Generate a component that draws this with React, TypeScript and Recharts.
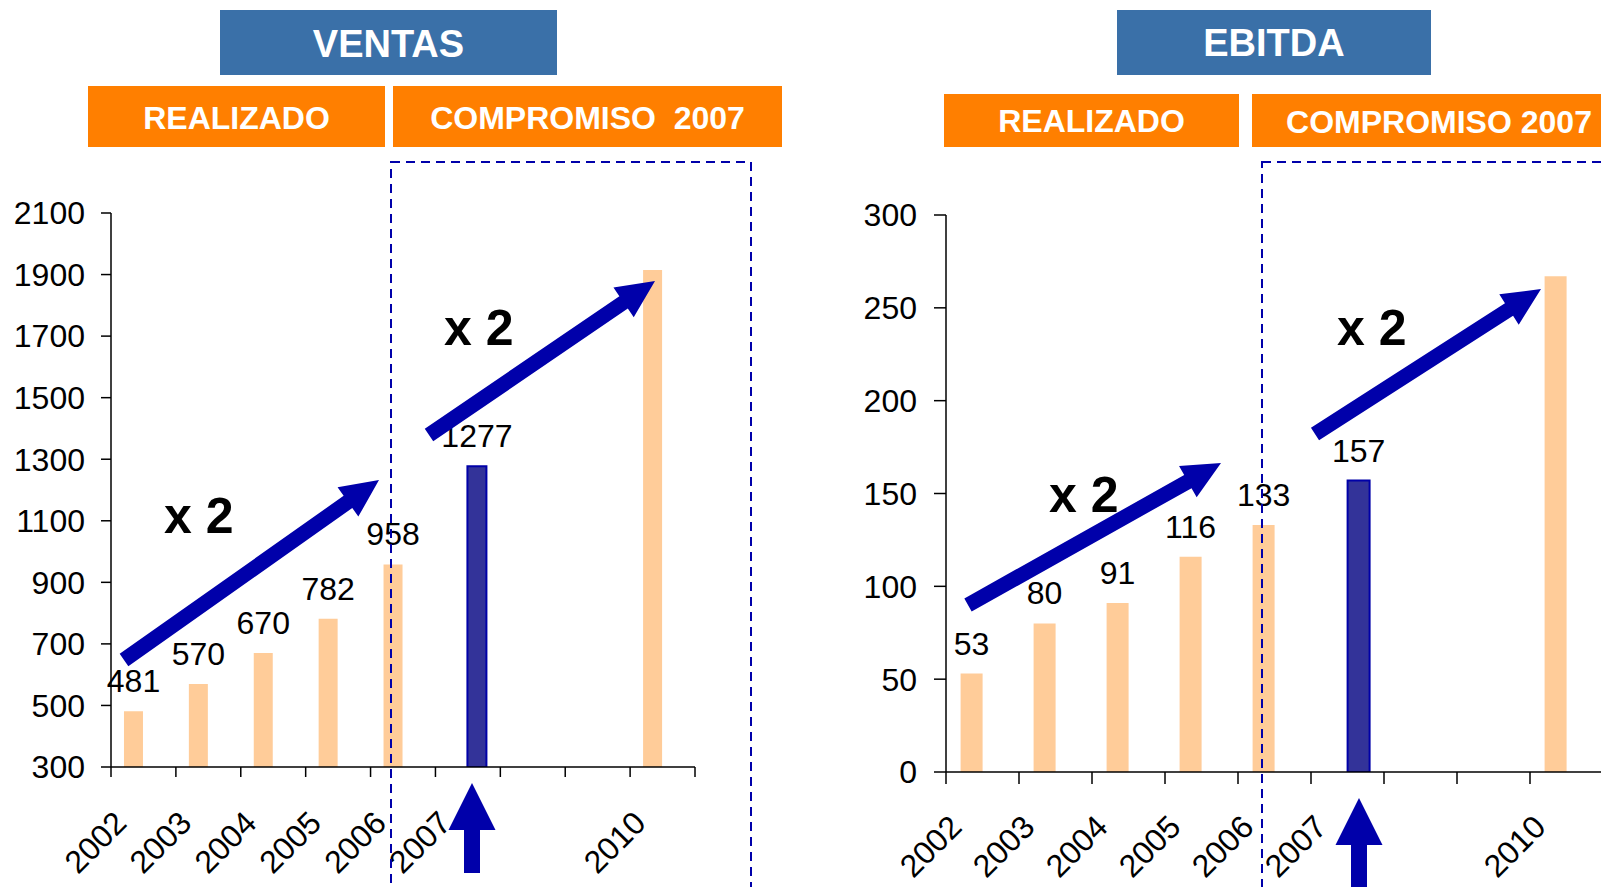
import { Bar, BarChart, LabelList, XAxis, YAxis } from "recharts";

const categories = ["2002", "2003", "2004", "2005", "2006", "2007", "2008", "2009", "2010"];
const hiddenYears = ["2008", "2009"];
const labeledYears = ["2002", "2003", "2004", "2005", "2006", "2007"];

const ventasRealizado = [481, 570, 670, 782, 958, null, null, null, 1915];
const ventasCompromiso = [null, null, null, null, null, 1277, null, null, null];
const ventasTicks = [300, 500, 700, 900, 1100, 1300, 1500, 1700, 1900, 2100];

const ebitdaRealizado = [53, 80, 91, 116, 133, null, null, null, 267];
const ebitdaCompromiso = [null, null, null, null, null, 157, null, null, null];
const ebitdaTicks = [0, 50, 100, 150, 200, 250, 300];

const colors = {
  peach: "#FFCC99",
  navy: "#333399",
  navyEdge: "#0000A8",
  arrow: "#0000AA",
  orange: "#FF7F00",
  steel: "#3A70A8",
  ink: "#000000",
};

const font = '"Liberation Sans", Arial, sans-serif';
const H = 887;
const textSize = 32;

function arrowPoints(x1: number, y1: number, x2: number, y2: number, shaft = 15, headW = 36, headL = 38) {
  const dx = x2 - x1;
  const dy = y2 - y1;
  const len = Math.hypot(dx, dy);
  const ux = dx / len;
  const uy = dy / len;
  const px = -uy;
  const py = ux;
  const bx = x2 - ux * headL;
  const by = y2 - uy * headL;
  const pts = [
    [x1 + (px * shaft) / 2, y1 + (py * shaft) / 2],
    [bx + (px * shaft) / 2, by + (py * shaft) / 2],
    [bx + (px * headW) / 2, by + (py * headW) / 2],
    [x2, y2],
    [bx - (px * headW) / 2, by - (py * headW) / 2],
    [bx - (px * shaft) / 2, by - (py * shaft) / 2],
    [x1 - (px * shaft) / 2, y1 - (py * shaft) / 2],
  ];
  return pts.map((p) => p.join(",")).join(" ");
}

function XTick(props: any) {
  const { x, y, payload, index, band, tickLen, dx, dy } = props;
  const year = payload.value;
  const lx = x + dx;
  const ly = y + dy;
  return (
    <g>
      <line x1={x - band / 2} x2={x - band / 2} y1={y} y2={y + tickLen} stroke={colors.ink} strokeWidth={1.5} />
      {index === categories.length - 1 && (
        <line x1={x + band / 2} x2={x + band / 2} y1={y} y2={y + tickLen} stroke={colors.ink} strokeWidth={1.5} />
      )}
      {!hiddenYears.includes(year) && (
        <text x={lx} y={ly} transform={`rotate(-45 ${lx} ${ly})`} textAnchor="end" fontSize={textSize} fill={colors.ink}>
          {year}
        </text>
      )}
    </g>
  );
}

function renderValue(props: any) {
  const { x, y, width, value } = props;
  if (value == null) {
    return null;
  }
  return (
    <text x={Number(x) + Number(width) / 2} y={Number(y) - 19} textAnchor="middle" fontSize={textSize} fill={colors.ink}>
      {value}
    </text>
  );
}

type PanelProps = {
  left: number;
  width: number;
  plotLeft: number;
  plotTop: number;
  plotWidth: number;
  plotHeight: number;
  realizado: (number | null)[];
  compromiso: (number | null)[];
  ticks: number[];
  tickLen: number;
  tickGap: number;
  labelDx: number;
  labelDy: number;
};

function Panel(p: PanelProps) {
  const data = categories.map((year, i) => {
    const show = labeledYears.includes(year);
    return {
      year,
      realizado: p.realizado[i],
      compromiso: p.compromiso[i],
      realizadoLabel: show ? p.realizado[i] : null,
      compromisoLabel: show ? p.compromiso[i] : null,
    };
  });
  const band = p.plotWidth / categories.length;
  const yAxisW = 60;
  const xAxisH = 60;
  const margin = {
    top: p.plotTop,
    left: p.plotLeft - yAxisW,
    right: p.width - p.plotLeft - p.plotWidth,
    bottom: H - p.plotTop - p.plotHeight - xAxisH,
  };

  return (
    <div style={{ position: "absolute", left: p.left, top: 0 }}>
      <BarChart width={p.width} height={H} data={data} margin={margin} barGap={0} barCategoryGap="20%">
        <XAxis
          dataKey="year"
          height={xAxisH}
          interval={0}
          tickSize={0}
          tickMargin={0}
          tickLine={false}
          axisLine={{ stroke: colors.ink, strokeWidth: 1.5 }}
          tick={(t: any) => (
            <XTick {...t} band={band} tickLen={p.tickLen} dx={p.labelDx} dy={p.labelDy} />
          )}
        />
        <YAxis
          width={yAxisW}
          domain={[p.ticks[0], p.ticks[p.ticks.length - 1]]}
          ticks={p.ticks}
          interval={0}
          allowDataOverflow
          tickSize={p.tickLen}
          tickMargin={p.tickGap}
          axisLine={{ stroke: colors.ink, strokeWidth: 1.5 }}
          tickLine={{ stroke: colors.ink, strokeWidth: 1.5 }}
          tick={{ fill: colors.ink, fontSize: textSize }}
        />
        <Bar dataKey="realizado" fill={colors.peach} isAnimationActive={false}>
          <LabelList dataKey="realizadoLabel" content={renderValue} />
        </Bar>
        <Bar
          dataKey="compromiso"
          fill={colors.navy}
          stroke={colors.navyEdge}
          strokeWidth={2}
          isAnimationActive={false}
        >
          <LabelList dataKey="compromisoLabel" content={renderValue} />
        </Bar>
      </BarChart>
    </div>
  );
}

function Header({ x, y, w, h, fill, text, size, cx, baseline }: any) {
  return (
    <g>
      <rect x={x} y={y} width={w} height={h} fill={fill} />
      <text x={cx ?? x + w / 2} y={baseline} textAnchor="middle" fontSize={size} fontWeight="bold" fill="#fff">
        {text}
      </text>
    </g>
  );
}

function Times({ x, y }: { x: number; y: number }) {
  return (
    <text x={x} y={y} fontSize={50} fontWeight="bold" fill={colors.ink}>
      x 2
    </text>
  );
}

function UpArrow({ cx, tip, base, bottom }: { cx: number; tip: number; base: number; bottom: number }) {
  const pts = [
    [cx, tip],
    [cx + 23.5, base],
    [cx + 8, base],
    [cx + 8, bottom],
    [cx - 8, bottom],
    [cx - 8, base],
    [cx - 23.5, base],
  ];
  return <polygon points={pts.map((q) => q.join(",")).join(" ")} fill={colors.arrow} />;
}

export default function App() {
  return (
    <div
      style={{
        position: "absolute",
        left: 0,
        top: 0,
        width: 1601,
        height: H,
        overflow: "hidden",
        background: "#fff",
        fontFamily: font,
      }}
    >
      <Panel
        left={0}
        width={720}
        plotLeft={111}
        plotTop={213}
        plotWidth={584}
        plotHeight={554}
        realizado={ventasRealizado}
        compromiso={ventasCompromiso}
        ticks={ventasTicks}
        tickLen={10}
        tickGap={16}
        labelDx={-15}
        labelDy={58}
      />
      <Panel
        left={800}
        width={820}
        plotLeft={146}
        plotTop={215}
        plotWidth={657}
        plotHeight={557}
        realizado={ebitdaRealizado}
        compromiso={ebitdaCompromiso}
        ticks={ebitdaTicks}
        tickLen={12}
        tickGap={17}
        labelDx={-19}
        labelDy={57}
      />

      <svg
        width={1601}
        height={H}
        style={{ position: "absolute", left: 0, top: 0, pointerEvents: "none", fontFamily: font }}
      >
        <Header x={220} y={10} w={337} h={65} fill={colors.steel} text="VENTAS" size={38} baseline={57} />
        <Header x={88} y={86} w={297} h={61} fill={colors.orange} text="REALIZADO" size={32} baseline={129} />
        <Header x={393} y={86} w={389} h={61} fill={colors.orange} text={"COMPROMISO\u00a0\u00a02007"} size={32} baseline={129} />

        <Header x={1117} y={10} w={314} h={65} fill={colors.steel} text="EBITDA" size={38} baseline={56} />
        <Header x={944} y={94} w={295} h={53} fill={colors.orange} text="REALIZADO" size={32} baseline={132} />
        <Header x={1252} y={94} w={380} h={53} fill={colors.orange} text="COMPROMISO 2007" size={32} cx={1439} baseline={133} />

        <rect x={391} y={162} width={360} height={728} fill="none" stroke={colors.arrow} strokeWidth={2} strokeDasharray="9 6" />
        <rect x={1262} y={162} width={400} height={728} fill="none" stroke={colors.arrow} strokeWidth={2} strokeDasharray="9 6" />

        <polygon points={arrowPoints(124, 660, 379, 480)} fill={colors.arrow} />
        <polygon points={arrowPoints(429, 435, 655, 281)} fill={colors.arrow} />
        <polygon points={arrowPoints(968, 605, 1221, 463)} fill={colors.arrow} />
        <polygon points={arrowPoints(1315, 434, 1541, 289)} fill={colors.arrow} />

        <Times x={164} y={533} />
        <Times x={444} y={345} />
        <Times x={1049} y={512} />
        <Times x={1337} y={345} />

        <UpArrow cx={472} tip={783} base={830} bottom={873} />
        <UpArrow cx={1359} tip={798} base={845} bottom={900} />
      </svg>
    </div>
  );
}
